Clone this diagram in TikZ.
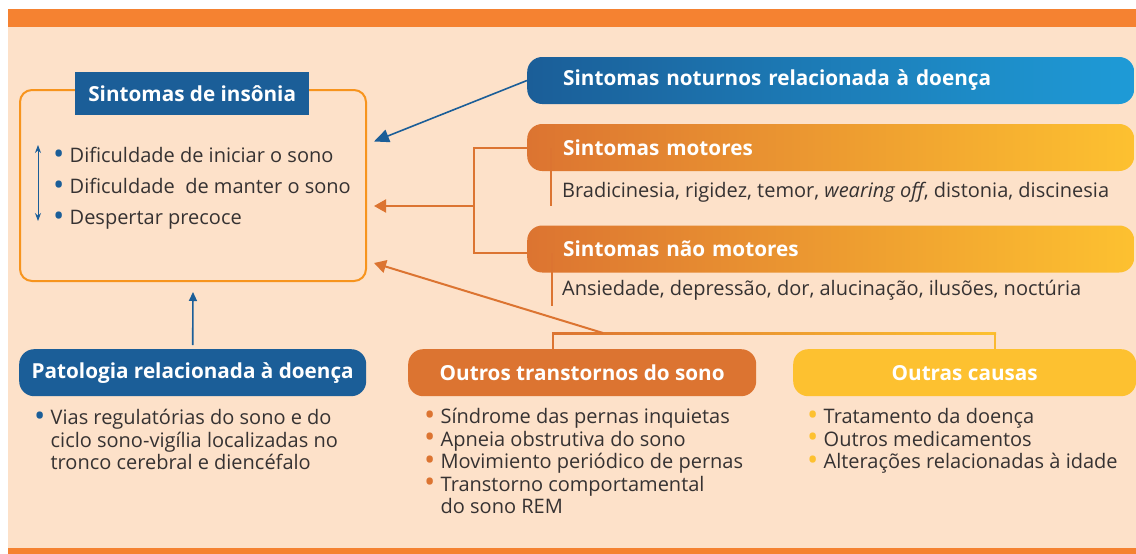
\documentclass[tikz,border=0pt]{standalone}
\usepackage{fontspec}
\usepackage{graphicx}
\setmainfont{Open Sans}
\usetikzlibrary{arrows.meta,positioning}

\definecolor{peach}{HTML}{FDE1C9}
\definecolor{topbar}{HTML}{F58231}
\definecolor{insblue}{HTML}{1B5E98}
\definecolor{skyblue}{HTML}{1E9BD7}
\definecolor{darkorange}{HTML}{DC7431}
\definecolor{sunyellow}{HTML}{FDC130}
\definecolor{boxorange}{HTML}{F7941D}
\definecolor{txtgray}{HTML}{363232}

\newcommand{\bul}[1]{\strut\textcolor{#1}{\smash{\raisebox{-0.1ex}{\scalebox{1.5}{\textbullet}}}}\ }

\begin{document}
\begin{tikzpicture}[x=1pt,y=-1pt]

\tikzset{banner/.style={rounded corners=15pt, minimum height=47pt, inner ysep=0pt,
                        text=white, font=\fontsize{20.7}{25}\selectfont\bfseries}}
\tikzset{bodytext/.style={text=txtgray, font=\fontsize{20}{22.5}\selectfont,
                          align=left, inner sep=0pt}}
\tikzset{barrow/.style={insblue, line width=1.6pt, -{Triangle[length=15pt,width=13pt]}}}
\tikzset{oarrow/.style={darkorange, line width=2pt, -{Triangle[length=12pt,width=13pt]}}}

% page
\useasboundingbox (0,0) rectangle (1136,554);
\fill[white] (0,0) rectangle (1136,554);
\fill[peach] (8,9) rectangle (1136,554);
\fill[topbar] (8,9) rectangle (1136,27);
\fill[topbar] (8,548) rectangle (1136,554);

% insomnia box
\node[draw=boxorange, line width=2pt, rounded corners=12pt, minimum width=346pt,
      minimum height=191pt, anchor=north west] (ins) at (19,89) {};
\node[fill=insblue, text=white, font=\fontsize{20.7}{25}\selectfont\bfseries,
      minimum width=234pt, minimum height=43pt, anchor=north west] (institle) at (75,72)
      {Sintomas de insônia};
\node[bodytext, anchor=north west] (inslist) at (53,147)
      {\bul{insblue}Dificuldade de iniciar o sono\\[8.5pt]
       \bul{insblue}Dificuldade\ \ de manter o sono\\[8.5pt]
       \bul{insblue}Despertar precoce};
\draw[insblue, line width=1pt, {Stealth[length=8pt,width=6pt]}-{Stealth[length=8pt,width=6pt]}]
      (38,145) -- (38,221);

% bracket of motor and non motor symptoms
\coordinate (brk) at (474,206);
\draw[darkorange, line width=2pt] (527,148) -| (brk) |- (527,253);

% bottom bracket
\coordinate (junc) at (603,333);
\shade[left color=darkorange, right color=sunyellow] (552,332) rectangle (996,334.5);
\draw[darkorange, line width=2pt] (553,333) -- (553,352);
\draw[sunyellow!90!darkorange, line width=2pt] (995,333) -- (995,352);

% banners on the right
\node[banner, left color=insblue, right color=skyblue, anchor=west, minimum width=607pt,
      text width=535pt, inner xsep=36pt, align=left] (noct) at (527,80.5)
      {Sintomas noturnos relacionada à doença};
\node[banner, left color=darkorange, right color=sunyellow, anchor=west, minimum width=607pt,
      text width=535pt, inner xsep=36pt, align=left] (mot) at (527,147.5)
      {Sintomas motores};
\node[banner, left color=darkorange, right color=sunyellow, anchor=west, minimum width=607pt,
      text width=535pt, inner xsep=36pt, align=left] (nmot) at (527,249)
      {Sintomas não motores};

\draw[darkorange, line width=1.6pt] (551,148) -- (551,206);
\draw[darkorange, line width=1.6pt] (552,253) -- (552,306);
\node[bodytext, anchor=base west] (motdesc) at (562,197)
      {Bradicinesia, rigidez, temor, \textit{wearing off}, distonia, discinesia};
\node[bodytext, anchor=base west] (nmotdesc) at (562,295)
      {Ansiedade, depressão, dor, alucinação, ilusões, noctúria};

% banners at the bottom
\node[banner, fill=insblue, minimum width=347pt, anchor=north west] (pat) at (19,349)
      {Patologia relacionada à doença};
\node[banner, fill=darkorange, minimum width=348pt, anchor=north west] (outr) at (408,349)
      {Outros transtornos do sono};
\node[banner, fill=sunyellow, minimum width=343pt, anchor=north west] (caus) at (793,349)
      {Outras causas};

\node[bodytext, anchor=north west] (patlist) at (34,409)
      {\bul{insblue}Vias regulatórias do sono e do\\
       \phantom{\bul{insblue}}ciclo sono-vigília localizadas no\\
       \phantom{\bul{insblue}}tronco cerebral e diencéfalo};
\node[bodytext, anchor=north west] (outrlist) at (424,408)
      {\bul{darkorange}Síndrome das pernas inquietas\\
       \bul{darkorange}Apneia obstrutiva do sono\\
       \bul{darkorange}Movimiento periódico de pernas\\
       \bul{darkorange}Transtorno comportamental\\
       \phantom{\bul{darkorange}}do sono REM};
\node[bodytext, anchor=north west] (causlist) at (807,408)
      {\bul{sunyellow}Tratamento da doença\\
       \bul{sunyellow}Outros medicamentos\\
       \bul{sunyellow}Alterações relacionadas à idade};

% arrows into the insomnia box
\draw[barrow] (noct.west) -- ([shift={(7,-44)}]ins.east);
\draw[oarrow, shorten >=7pt] (brk) -- (brk -| ins.east);
\draw[oarrow] (junc) -- ([shift={(7,77.5)}]ins.east);
\draw[insblue, line width=1.6pt, -{Triangle[length=9pt,width=8pt]}]
      ([yshift=4pt]pat.north) -- ([yshift=-10pt]ins.south);

\end{tikzpicture}
\end{document}
